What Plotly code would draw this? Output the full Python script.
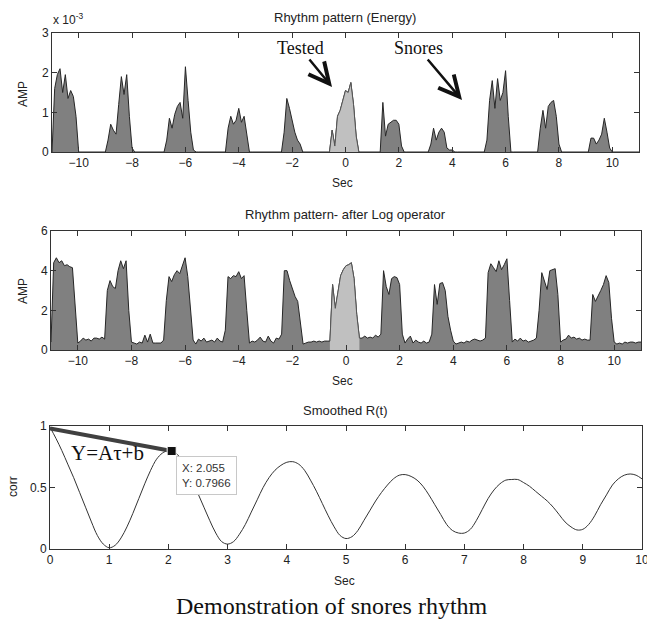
import numpy as np
import plotly.graph_objects as go

# ---------------- data ----------------
# time grid for the rhythm patterns: -11.0 .. 11.0 s, step 0.1 s
time_start, time_step, n_samples = -11.0, 0.1, 221

# Rhythm pattern (Energy), in units of 1e-3 ; one row per second
energy_e3 = [
    0, 1.6, 1.95, 2.1, 1.5, 1.95, 1.35, 1.55, 1.4, 0.9,      # -11
    0, 0, 0, 0, 0, 0, 0, 0, 0, 0,                             # -10
    0, 0.3, 0.7, 0.55, 0.45, 1.2, 1.9, 1.45, 1.95, 0.9,       # -9
    0.1, 0, 0, 0, 0, 0, 0, 0, 0, 0,                           # -8
    0, 0, 0, 0.3, 0.85, 0.6, 0.95, 1.15, 1.25, 0.85,          # -7
    2.15, 1.3, 0.5, 0.05, 0, 0, 0, 0, 0, 0,                   # -6
    0, 0, 0, 0, 0, 0, 0.6, 0.9, 0.7, 0.8,                     # -5
    1.1, 0.75, 0.9, 0.4, 0, 0, 0, 0, 0, 0,                    # -4
    0, 0, 0, 0, 0, 0, 0, 0.5, 1.35, 1.1,                      # -3
    0.8, 0.5, 0.3, 0.2, 0, 0, 0, 0, 0, 0,                     # -2
    0, 0, 0, 0, 0, 0.55, 0.15, 0.9, 1.05, 1.3,                # -1
    1.55, 1.5, 1.75, 1.2, 0.4, 0, 0, 0, 0, 0,                 # 0
    0, 0, 0, 0, 1.25, 0.4, 0.7, 0.75, 0.8, 0.8,               # 1
    0.7, 0.15, 0, 0, 0, 0, 0, 0, 0, 0,                        # 2
    0, 0, 0.2, 0.6, 0.3, 0.5, 0.6, 0.5, 0.1, 0.05,            # 3
    0.05, 0, 0, 0, 0, 0, 0, 0, 0, 0,                          # 4
    0, 0, 0, 0.3, 1.3, 1.8, 1.1, 1.85, 1.3, 1.5,              # 5
    2.05, 0.9, 0, 0, 0, 0, 0, 0, 0, 0,                        # 6
    0, 0, 0, 0.6, 1.05, 0.6, 1.15, 1.25, 1.3, 0.9,            # 7
    0.2, 0, 0, 0, 0, 0, 0, 0, 0, 0,                           # 8
    0, 0, 0.35, 0.35, 0.2, 0.3, 0.45, 0.85, 0.5, 0.1,         # 9
    0, 0, 0, 0, 0, 0, 0, 0, 0, 0,                             # 10
    0,                                                        # 11.0
]

# Rhythm pattern after log operator
log_amp = [
    0.4, 4.4, 4.65, 4.4, 4.5, 4.25, 4.3, 4.2, 4.15, 2.0,      # -11
    0.35, 0.45, 0.6, 0.5, 0.55, 0.45, 0.6, 0.6, 0.55, 0.65,   # -10
    0.55, 3.0, 3.5, 3.2, 3.1, 4.0, 4.5, 4.1, 4.5, 2.0,        # -9
    0.4, 0.35, 0.3, 0.4, 0.35, 0.75, 0.4, 0.8, 0.35, 0.35,    # -8
    0.35, 0.35, 0.5, 2.5, 3.7, 3.45, 3.8, 4.0, 3.85, 4.2,     # -7
    4.65, 3.7, 2.1, 0.5, 0.3, 0.55, 0.45, 0.6, 0.4, 0.45,     # -6
    0.5, 0.4, 0.6, 0.45, 0.4, 1.0, 3.7, 3.6, 3.75, 3.7,       # -5
    3.95, 3.6, 3.75, 2.0, 0.35, 0.45, 0.4, 0.5, 0.65, 0.45,   # -4
    0.4, 0.7, 0.45, 0.35, 0.6, 0.55, 0.8, 4.0, 4.0, 3.5,      # -3
    3.05, 2.7, 2.45, 1.5, 0.3, 0.35, 0.4, 0.4, 0.45, 0.4,     # -2
    0.45, 0.4, 0.45, 0.45, 0.45, 3.3, 2.1, 2.9, 3.75, 4.05,   # -1
    4.25, 4.3, 4.4, 3.6, 1.8, 0.6, 0.6, 0.7, 0.6, 0.65,       # 0
    0.6, 0.75, 0.65, 0.8, 4.0, 3.2, 2.8, 3.6, 3.7, 3.65,      # 1
    3.3, 0.8, 0.35, 0.55, 0.7, 0.35, 0.5, 0.4, 0.35, 0.45,    # 2
    0.35, 0.4, 0.8, 3.3, 2.3, 3.35, 3.4, 3.0, 1.7, 1.0,       # 3
    0.45, 0.3, 0.35, 0.4, 0.35, 0.45, 0.4, 0.5, 0.55, 0.5,    # 4
    0.45, 0.5, 0.6, 3.9, 4.35, 4.15, 3.95, 4.5, 4.05, 4.3,    # 5
    4.6, 2.5, 0.4, 0.55, 0.45, 0.6, 0.45, 0.5, 0.4, 0.45,     # 6
    0.5, 0.6, 2.0, 3.9, 3.5, 3.05, 4.0, 4.05, 4.1, 2.8,       # 7
    0.4, 0.5, 0.55, 0.75, 0.6, 0.65, 0.55, 0.6, 0.5, 0.55,    # 8
    0.5, 0.5, 2.8, 2.45, 2.7, 3.0, 3.3, 3.75, 3.4, 1.6,       # 9
    0.4, 0.3, 0.35, 0.3, 0.4, 0.35, 0.4, 0.4, 0.35, 0.4,      # 10
    0.4,                                                      # 11.0
]

# the "tested" snore segment
tested_start, tested_end = -0.6, 0.5

# Smoothed autocorrelation R(t), lag 0 .. 10 s, step 0.1 s
corr = [
    0.99, 0.90, 0.80, 0.69, 0.58, 0.46, 0.34, 0.22, 0.11, 0.04,
    0.01, 0.03, 0.09, 0.18, 0.29, 0.41, 0.53, 0.64, 0.73, 0.78,
    0.80, 0.79, 0.74, 0.66, 0.56, 0.45, 0.34, 0.23, 0.13, 0.06,
    0.04, 0.06, 0.12, 0.20, 0.30, 0.40, 0.50, 0.58, 0.64, 0.68,
    0.705, 0.71, 0.69, 0.64, 0.56, 0.47, 0.37, 0.27, 0.18, 0.11,
    0.085, 0.10, 0.15, 0.23, 0.31, 0.39, 0.46, 0.52, 0.57, 0.60,
    0.605, 0.59, 0.56, 0.51, 0.44, 0.36, 0.28, 0.20, 0.15, 0.13,
    0.13, 0.16, 0.23, 0.32, 0.41, 0.48, 0.53, 0.56, 0.565, 0.565,
    0.54, 0.51, 0.47, 0.43, 0.39, 0.34, 0.28, 0.22, 0.18, 0.155,
    0.16, 0.20, 0.27, 0.36, 0.44, 0.52, 0.57, 0.60, 0.61, 0.60,
    0.57,
]
lag_step = 0.1

# linear fit Y = A*tau + b, from lag 0 to the data tip
fit_x = [0.0, 2.055]
fit_y = [0.98, 0.7966]
tip_x, tip_y = 2.055, 0.7966

x_ticks_rhythm = [-10, -8, -6, -4, -2, 0, 2, 4, 6, 8, 10]
y_ticks_energy = [0, 1, 2, 3]
y_ticks_log = [0, 2, 4, 6]
x_ticks_corr = list(range(0, 11))
y_ticks_corr = [0, 0.5, 1]

# ---------------- figure ----------------
assert len(energy_e3) == n_samples and len(log_amp) == n_samples
t = np.round(time_start + time_step * np.arange(n_samples), 2)
energy_arr = np.array(energy_e3)
log_arr = np.array(log_amp)
tested = (t >= tested_start - 1e-9) & (t <= tested_end + 1e-9)
lag = np.round(lag_step * np.arange(len(corr)), 2)

W, H = 647, 620
def fx(p):
    return p / W
def fy(p):
    return 1 - p / H

SANS = "Liberation Sans, Arial, Helvetica, sans-serif"
SERIF = "Liberation Serif, Times New Roman, serif"
DARK_FILL = "#808080"
LIGHT_FILL = "#c0c0c0"
EDGE = "#262626"

fig = go.Figure()

# panel 1
fig.add_trace(go.Scatter(x=t, y=energy_arr, mode="lines", fill="tozeroy",
                         fillcolor=DARK_FILL, line=dict(color=EDGE, width=1),
                         xaxis="x", yaxis="y", hoverinfo="skip"))
fig.add_trace(go.Scatter(x=t[tested], y=energy_arr[tested], mode="lines", fill="tozeroy",
                         fillcolor=LIGHT_FILL, line=dict(color="#555555", width=1),
                         xaxis="x", yaxis="y", hoverinfo="skip"))
# panel 2
fig.add_trace(go.Scatter(x=t, y=log_arr, mode="lines", fill="tozeroy",
                         fillcolor=DARK_FILL, line=dict(color=EDGE, width=1),
                         xaxis="x2", yaxis="y2", hoverinfo="skip"))
fig.add_trace(go.Scatter(x=t[tested], y=log_arr[tested], mode="lines", fill="tozeroy",
                         fillcolor=LIGHT_FILL, line=dict(color="#555555", width=1),
                         xaxis="x2", yaxis="y2", hoverinfo="skip"))
# panel 3
fig.add_trace(go.Scatter(x=lag, y=corr, mode="lines", line=dict(color="#333333", width=1),
                         line_shape="spline", xaxis="x3", yaxis="y3", hoverinfo="skip"))
fig.add_trace(go.Scatter(x=fit_x, y=fit_y, mode="lines", line=dict(color="#404040", width=4),
                         xaxis="x3", yaxis="y3", hoverinfo="skip"))
fig.add_trace(go.Scatter(x=[tip_x], y=[tip_y], mode="markers",
                         marker=dict(symbol="square", size=9, color="#111111",
                                     line=dict(color="#ffffff", width=1)),
                         xaxis="x3", yaxis="y3", hoverinfo="skip"))

axis_common = dict(showline=True, linecolor="#333333", linewidth=1, mirror="ticks",
                   ticks="inside", ticklen=5, tickcolor="#333333", showgrid=False,
                   zeroline=False, automargin=False, ticklabeloverflow="allow",
                   tickfont=dict(family=SANS, size=12, color="#222222"))

fig.update_layout(
    width=W, height=H, margin=dict(l=0, r=0, t=0, b=0, autoexpand=False),
    paper_bgcolor="white", plot_bgcolor="white", showlegend=False, hovermode=False,
    xaxis=dict(domain=[fx(52), fx(639)], anchor="y", range=[-11, 11],
               tickvals=x_ticks_rhythm, **axis_common),
    yaxis=dict(domain=[fy(152), fy(33)], anchor="x", range=[0, 3],
               tickvals=y_ticks_energy, **axis_common),
    xaxis2=dict(domain=[fx(51), fx(641)], anchor="y2", range=[-11, 11],
                tickvals=x_ticks_rhythm, **axis_common),
    yaxis2=dict(domain=[fy(350), fy(231)], anchor="x2", range=[0, 6],
                tickvals=y_ticks_log, **axis_common),
    xaxis3=dict(domain=[fx(50), fx(642)], anchor="y3", range=[0, 10],
                tickvals=x_ticks_corr, **axis_common),
    yaxis3=dict(domain=[fy(549), fy(426)], anchor="x3", range=[0, 1],
                tickvals=y_ticks_corr, ticktext=["0", "0.5", "1"], **axis_common),
)

ann = []
def label(text, x, y, size=12, family=SANS, color="#222222", xa="center", ya="middle", angle=0):
    ann.append(dict(text=text, x=fx(x), y=fy(y), xref="paper", yref="paper",
                    xanchor=xa, yanchor=ya, showarrow=False, textangle=angle,
                    font=dict(family=family, size=size, color=color)))

label("Rhythm pattern (Energy)", 345, 17, size=13)
label("Rhythm pattern- after Log operator", 345, 214, size=13)
label("Smoothed R(t)", 345, 410, size=13)
label("Sec", 342, 183, size=12)
label("Sec", 342, 381, size=12)
label("Sec", 344, 581, size=12)
label("AMP", 23, 94, size=12, angle=-90)
label("AMP", 23, 291, size=12, angle=-90)
label("corr", 13, 487, size=12, angle=-90)
label("x 10<sup>-3</sup>", 51, 29, size=12, xa="left", ya="bottom")
label("Y=A\u03c4+b", 107, 453, size=21, family=SERIF, color="#111111")
label("Demonstration of snores rhythm", 332, 606, size=24, family=SERIF, color="#111111")

# labelled arrows: (text, text centre, arrow tip)
for text, centre, tip in [("Tested", (300, 48), (332, 87)), ("Snores", (418, 48), (462, 100))]:
    ann.append(dict(text=text, x=fx(tip[0]), y=fy(tip[1]), xref="paper", yref="paper",
                    showarrow=True, ax=centre[0] - tip[0], ay=centre[1] - tip[1],
                    arrowhead=5, arrowsize=1.6, arrowwidth=2.5, arrowcolor="#111111",
                    font=dict(family=SERIF, size=18, color="#111111")))

# data tip box
ann.append(dict(text=f"X: {tip_x}<br>Y: {tip_y}", x=2.13, y=0.755, xref="x3", yref="y3",
                xanchor="left", yanchor="top", showarrow=False, align="left",
                bgcolor="white", bordercolor="#c8c8c8", borderwidth=1, borderpad=5,
                font=dict(family=SANS, size=11.5, color="#333333")))

fig.update_layout(annotations=ann)
fig.write_html("out.html", config={"displayModeBar": False, "staticPlot": True},
               post_script="document.body.style.margin='0px';"
                           "document.body.style.overflow='hidden';")
